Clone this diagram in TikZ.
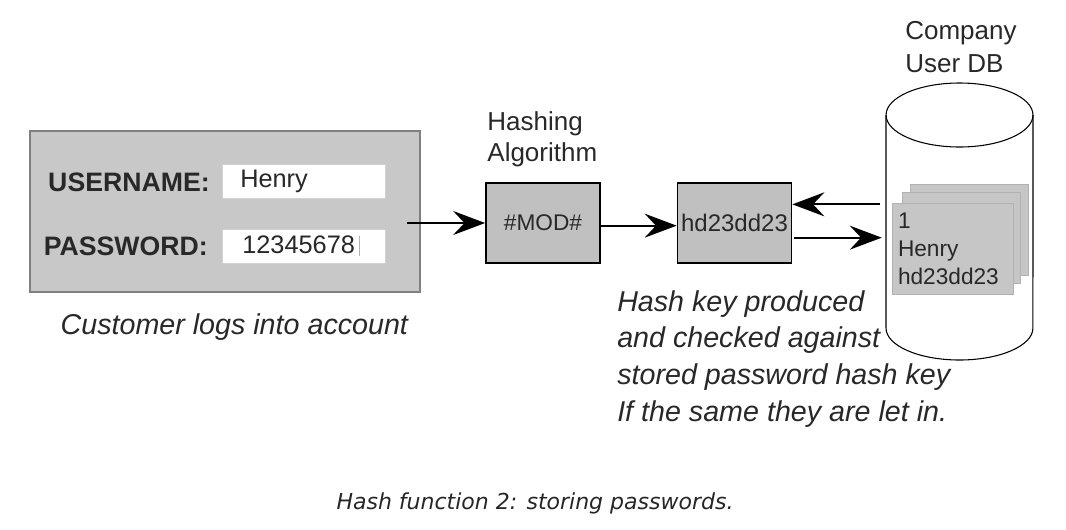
\documentclass[tikz,border=0pt]{standalone}
\usepackage{fontspec}
\setmainfont{Liberation Sans}
\newfontfamily\capfont{DejaVu Sans}
\usetikzlibrary{%
		arrows.meta%
		,positioning%
	}
\definecolor{panelgray}{RGB}{200,200,200}
\definecolor{boxgray}{RGB}{192,192,192}
\definecolor{cardgray}{RGB}{198,198,198}
\definecolor{textgray}{RGB}{40,40,40}

\tikzset{
	box/.style={draw=black, line width=1.3pt, fill=boxgray, minimum width=114*0.75pt, minimum height=80*0.75pt, inner sep=0pt, font=\fontsize{17pt}{20pt}\selectfont},
	field/.style={draw=gray!35, fill=white, anchor=west, inner xsep=13.5pt, inner ysep=0pt, text width=95pt, minimum height=34*0.75pt, align=left},
	card/.style={fill=cardgray, draw=gray!60, minimum width=118*0.75pt, minimum height=91*0.75pt, inner sep=0pt},
	arr/.style={-{Stealth[length=24pt, width=18pt, inset=8.5pt]}, line width=1.4pt},
	note/.style={font=\fontsize{21.5pt}{27.5pt}\selectfont\itshape, align=left, inner sep=0pt, text=textgray}
}

\begin{document}
\begin{tikzpicture}[x=0.75pt, y=-0.75pt, font=\fontsize{19pt}{23pt}\selectfont, text=textgray]
			\useasboundingbox (0,0) rectangle (1066,529);
			
			% login panel
			\node[draw=gray, line width=0.8pt, fill=panelgray, minimum width=390*0.75pt, minimum height=161*0.75pt] (login) at (225,211.5) {};
			\node[anchor=east, inner sep=0pt, font=\fontsize{20pt}{23pt}\selectfont\bfseries] (userlbl) at (210,182) {USERNAME:};
			\node[anchor=east, inner sep=0pt, font=\fontsize{20pt}{23pt}\selectfont\bfseries] (passlbl) at (208,246) {PASSWORD:};
			\node[field] (user) at (222,181) {Henry};
			\node[field, inner xsep=15pt, text width=92pt] (pass) at (222,246) {12345678\,\textcolor{gray!60}{\rule[-2pt]{0.8pt}{15pt}}};
			\node[note, below=16pt of login, xshift=7pt] (logcap) {Customer logs into account};
			
			% hashing
			\node[box] (hash) at (543,223) {\#MOD\#};
			\node[anchor=south west, inner sep=0pt, align=left, font=\fontsize{19.5pt}{23.5pt}\selectfont] (hashlbl) at ([xshift=1.5pt, yshift=11pt]hash.north west) {Hashing\\Algorithm};
			\node[box, font=\fontsize{18pt}{20pt}\selectfont] (key) at (734.5,223) {hd23dd23};
			
			% database
			\draw[line width=0.8pt] (886,115) -- (886,328) arc[start angle=180, end angle=360, x radius=55.1pt, y radius=24pt] -- (1033,115);
			\draw[line width=0.8pt] (959.5,115) ellipse [x radius=55.1pt, y radius=24pt];
			\node[minimum width=147*0.75pt, minimum height=245*0.75pt, inner sep=0pt] (db) at (959.5,221) {};
			\node[anchor=south west, inner sep=0pt, align=left, font=\fontsize{19.5pt}{24.5pt}\selectfont] (dblbl) at (905,73) {Company\\User DB};
			\node[card] (card3) at (969.5,229.5) {};
			\node[card] (card2) at (961,237.5) {};
			\node[card, align=left, text width=110*0.75pt, inner xsep=4pt, font=\fontsize{17pt}{21pt}\selectfont] (card1) at (953,248.5) {1\\Henry\\hd23dd23};
			
			% connectors
			\draw[arr, shorten <=-10pt] (hash.west -| login.east) -- (hash.west);
			\draw[arr] ([yshift=-2pt]hash.east) -- ([yshift=-2pt]key.east -| key.west);
			\coordinate (up) at ([yshift=14pt]key.east);
			\coordinate (down) at ([yshift=-11pt]key.east);
			\draw[arr, shorten <=4pt] (up -| db.west) -- (up);
			\draw[arr, shorten >=3pt, shorten <=1pt] (down) -- (down -| db.west);
			
			\node[note, anchor=north west] (hashnote) at (617,290) {Hash key produced\\and checked against\\stored password hash key\\If the same they are let in.};
			
			\node[font=\capfont\fontsize{16.5pt}{18pt}\selectfont\itshape, text=black!85] (figcap) at (535,503) {Hash function 2: storing passwords.};
		\end{tikzpicture}
\end{document}
